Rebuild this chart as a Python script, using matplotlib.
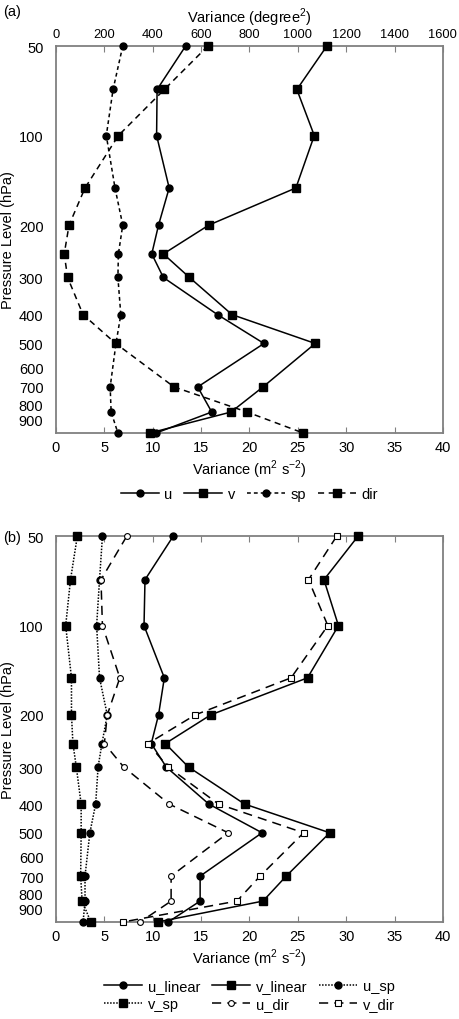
import matplotlib
matplotlib.use("Agg")
import matplotlib.pyplot as plt
from matplotlib.ticker import FixedLocator, NullLocator, FixedFormatter

plt.rcParams['font.family'] = ['Liberation Sans', 'DejaVu Sans']
plt.rcParams['font.size'] = 10.5
plt.rcParams['mathtext.fontset'] = 'custom'
plt.rcParams['mathtext.rm'] = 'Liberation Sans'

levels = [50, 70, 100, 150, 200, 250, 300, 400, 500, 700, 850, 1000]

# panel (a)
u_a = [13.4, 10.45, 10.4, 11.7, 10.6, 9.9, 11.1, 16.7, 21.5, 14.65, 16.1, 10.35]
v_a = [28.0, 24.9, 26.7, 24.8, 15.8, 11.1, 13.8, 18.2, 26.8, 21.4, 18.1, 9.7]
sp_a = [6.9, 5.9, 5.2, 6.1, 6.9, 6.45, 6.4, 6.7, 6.2, 5.6, 5.7, 6.4]
dir_a = [628, 448, 258, 120, 54, 34, 48, 112, 247, 488, 790, 1022]   # degree^2

# panel (b)
u_linear = [12.1, 9.2, 9.1, 11.2, 10.6, 9.85, 11.4, 15.8, 21.3, 14.9, 14.9, 11.6]
v_linear = [31.2, 27.7, 29.2, 26.0, 16.0, 11.3, 13.7, 19.5, 28.3, 23.8, 21.4, 10.5]
u_sp = [4.8, 4.5, 4.2, 4.5, 5.3, 4.75, 4.35, 4.1, 3.5, 3.0, 3.0, 2.8]
v_sp = [2.2, 1.5, 1.0, 1.6, 1.6, 1.75, 2.1, 2.6, 2.6, 2.55, 2.7, 3.6]
u_dir = [7.3, 4.65, 4.8, 6.6, 5.3, 5.0, 7.0, 11.7, 17.8, 11.9, 11.9, 8.7]
v_dir = [29.0, 26.1, 28.1, 24.3, 14.4, 9.5, 11.6, 16.8, 25.6, 21.1, 18.7, 6.9]

ytick_vals = [50, 100, 200, 300, 400, 500, 600, 700, 800, 900]
spine_col = '#808080'


def style_axes(ax):
    ax.set_yscale('log')
    ax.set_ylim(1000, 50)
    ax.yaxis.set_major_locator(FixedLocator(ytick_vals))
    ax.yaxis.set_major_formatter(FixedFormatter([str(v) for v in ytick_vals]))
    ax.yaxis.set_minor_locator(NullLocator())
    ax.set_xlim(0, 40)
    ax.set_xticks(range(0, 41, 5))
    ax.tick_params(axis='y', length=0, pad=9)
    ax.tick_params(axis='x', direction='in', length=4, color=spine_col, pad=5)
    for s in ax.spines.values():
        s.set_color(spine_col)
        s.set_linewidth(1.3)
    ax.set_xlabel('Variance (m$^2$ s$^{-2}$)', labelpad=3)
    ax.set_ylabel('Pressure Level (hPa)', labelpad=3)


fig = plt.figure(figsize=(4.59, 10.2), dpi=100)
kw = dict(color='black', lw=1.1, clip_on=False, zorder=3)

# ---- (a)
ax1 = fig.add_axes([0.122, 0.5745, 0.843, 0.3794])
style_axes(ax1)
ax1.plot(u_a, levels, marker='o', ms=5, ls='-', label='u', **kw)
ax1.plot(v_a, levels, marker='s', ms=5.2, ls='-', label='v', **kw)
ax1.plot(sp_a, levels, marker='o', ms=5, ls=(0, (2.5, 2)), label='sp', **kw)
ax1.plot([], [], marker='s', ms=5.2, ls=(0, (4, 3)), label='dir', color='black', lw=1.1)

ax1t = ax1.twiny()
ax1t.set_xlim(0, 1600)
ax1t.set_xticks(range(0, 1601, 200))
ax1t.tick_params(axis='x', direction='in', length=4, color=spine_col, pad=4, labelsize=9.3)
for s in ax1t.spines.values():
    s.set_visible(False)
ax1t.plot(dir_a, levels, marker='s', ms=5.2, ls=(0, (4, 3)), **kw)
ax1t.set_xlabel('Variance (degree$^2$)', labelpad=5)

ax1.legend(loc='center', bbox_to_anchor=(0.5, -0.158), ncol=4, frameon=False,
           handlelength=2.6, columnspacing=0.8, handletextpad=0.4)
fig.text(0.007, 0.988, '(a)', ha='left', va='center')

# ---- (b)
ax2 = fig.add_axes([0.122, 0.0951, 0.843, 0.378])
style_axes(ax2)
ax2.tick_params(axis='x', top=True)
h1, = ax2.plot(u_linear, levels, marker='o', ms=5, ls='-', label='u_linear', **kw)
h2, = ax2.plot(v_linear, levels, marker='s', ms=5.2, ls='-', label='v_linear', **kw)
h3, = ax2.plot(u_sp, levels, marker='o', ms=5, ls=(0, (1, 1)), label='u_sp', **kw)
h4, = ax2.plot(v_sp, levels, marker='s', ms=5.2, ls=(0, (1, 1)), label='v_sp', **kw)
h5, = ax2.plot(u_dir, levels, marker='o', ms=4.2, mfc='white', mew=0.8, ls=(0, (6, 4)), label='u_dir', **kw)
h6, = ax2.plot(v_dir, levels, marker='s', ms=4.6, mfc='white', mew=0.8, ls=(0, (6, 4)), label='v_dir', **kw)

# row-wise order: u_linear v_linear u_sp / v_sp u_dir v_dir
order = [h1, h4, h2, h5, h3, h6]
ax2.legend(handles=order, labels=[h.get_label() for h in order], loc='center',
           bbox_to_anchor=(0.5, -0.189), ncol=3, frameon=False,
           handlelength=2.6, columnspacing=0.8, handletextpad=0.4, labelspacing=0.25)
fig.text(0.007, 0.473, '(b)', ha='left', va='center')

fig.savefig('out.png', dpi=100)
